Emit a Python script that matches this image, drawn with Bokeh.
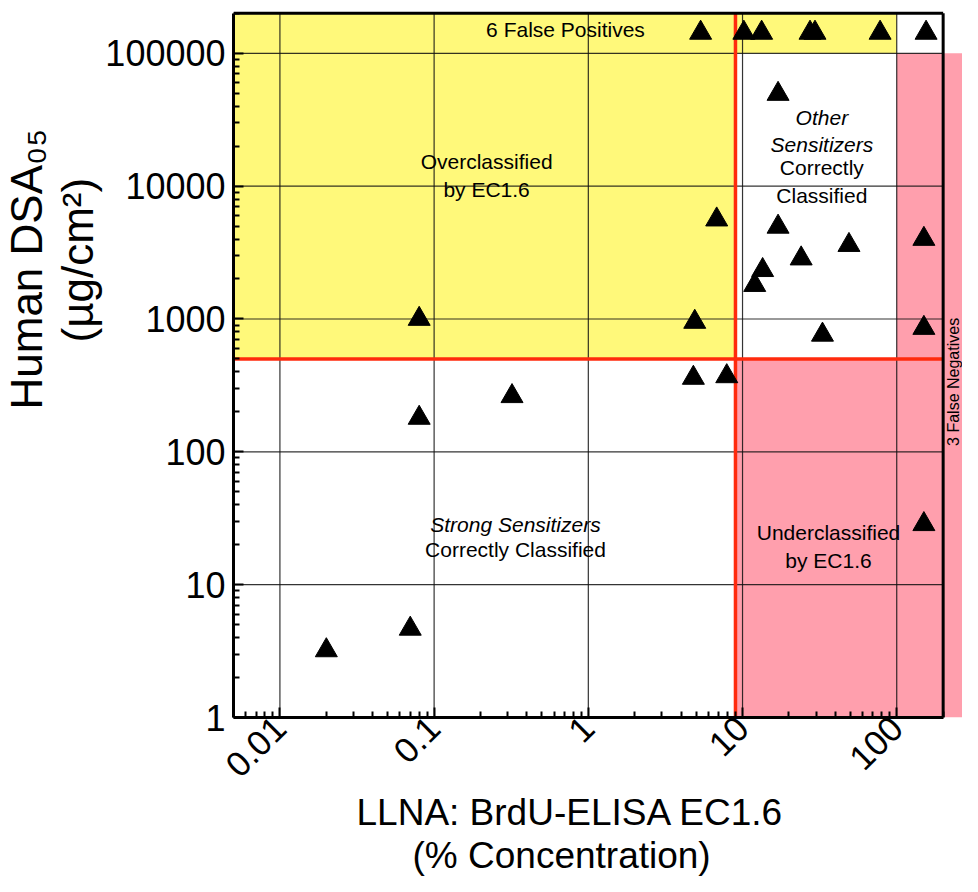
import math
from bokeh.plotting import figure
from bokeh.models import Range1d, FixedTicker, Title, ColumnDataSource
from bokeh.core.properties import value
from bokeh.embed import file_html
from bokeh.resources import INLINE

# ---------------- data ----------------
ec16 = [0.02, 0.07, 0.08, 0.08, 0.32, 4.8, 7.9, 4.9, 6.8, 12, 13.5, 17, 24, 33, 49, 17,
        150, 150, 150,
        5.35, 10.2, 13.3, 27.4, 29.5, 78, 155]
dsa05 = [3.2, 4.65, 180, 1000, 262, 360, 370, 950, 5600, 1800, 2330, 4940, 2850, 760, 3600, 49400,
         4000, 855, 28.5,
         142500, 142500, 142500, 142500, 142500, 142500, 142500]

ec_threshold = 9          # vertical red line (% concentration)
dsa_threshold = 500       # horizontal red line (ug/cm2)
fp_band = 100000          # "6 False Positives" strip lower edge
fn_band = 100             # "3 False Negatives" column left edge

x_ticks = [0.01, 0.1, 1, 10, 100]
x_tick_labels = ["0.01", "0.1", "1", "10", "100"]
y_ticks = [1, 10, 100, 1000, 10000, 100000]
y_tick_labels = ["1", "10", "100", "1000", "10000", "100000"]

x_lo, x_hi = 0.005, 200        # plot box
y_lo, y_hi = 1, 200000

FONT = "Liberation Sans"
YELLOW = "#FFF97A"
PINK = "#FF9FAD"
RED = "#FF2A0D"

p = figure(width=962, height=876, x_axis_type="log", y_axis_type="log",
           x_range=Range1d(x_lo, 267), y_range=Range1d(y_lo, 210000),
           output_backend="svg", toolbar_location=None,
           min_border_left=233, min_border_right=0, min_border_top=10, min_border_bottom=159)
p.outline_line_color = None
p.xgrid.visible = False
p.ygrid.visible = False
p.background_fill_color = "white"
p.border_fill_color = "white"

# shaded regions
p.quad(left=[1e-4, ec_threshold], right=[ec_threshold, fn_band],
       bottom=[dsa_threshold, fp_band], top=[y_hi, y_hi],
       fill_color=YELLOW, line_color=None)
p.quad(left=[ec_threshold, fn_band, x_hi], right=[x_hi, x_hi, 1e4],
       bottom=[1e-2, dsa_threshold, y_lo], top=[dsa_threshold, fp_band, fp_band],
       fill_color=PINK, line_color=None)

# grid lines (inside the box only)
p.segment(x0=x_ticks, y0=[y_lo] * len(x_ticks), x1=x_ticks, y1=[y_hi] * len(x_ticks),
          line_color="#111111", line_width=1.2, line_alpha=0.85)
p.segment(x0=[x_lo] * (len(y_ticks) - 1), y0=y_ticks[1:], x1=[x_hi] * (len(y_ticks) - 1), y1=y_ticks[1:],
          line_color="#111111", line_width=1.2, line_alpha=0.85)

# threshold lines
p.segment(x0=[ec_threshold, x_lo], y0=[y_lo, dsa_threshold], x1=[ec_threshold, x_hi], y1=[y_hi, dsa_threshold],
          line_color=RED, line_width=3.5)

# box top/right border
p.segment(x0=[x_lo, x_hi], y0=[y_hi, y_lo], x1=[x_hi, x_hi], y1=[y_hi, y_hi],
          line_color="black", line_width=3)

# points
p.scatter(ec16, dsa05, marker="triangle", size=22, fill_color="black", line_color="black")

# region texts
normal = ColumnDataSource(dict(
    x=[0.711, 0.219, 32.7, 0.337, 36.1],
    y=[151700, 12050, 10870, 18.4, 19.4],
    t=["6 False Positives", "Overclassified\nby EC1.6", "Correctly\nClassified",
       "Correctly Classified", "Underclassified\nby EC1.6"]))
p.text(x="x", y="y", text="t", source=normal, text_font=value(FONT), text_font_size="21px",
       text_align="center", text_baseline="middle", text_color="black", text_line_height=1.2)
italic = ColumnDataSource(dict(
    x=[32.7, 0.337], y=[26070, 28.4], t=["Other\nSensitizers", "Strong Sensitizers"]))
p.text(x="x", y="y", text="t", source=italic, text_font=value(FONT), text_font_size="21px",
       text_font_style="italic", text_align="center", text_baseline="middle", text_color="black",
       text_line_height=1.2)
p.text(x=[232], y=[336], text=["3 False Negatives"], angle=math.pi / 2, text_font=value(FONT),
       text_font_size="16px", text_align="center", text_baseline="middle", text_color="black")

# axes
minor = [m * 10 ** k for k in range(-3, 6) for m in range(2, 10)]
xa = p.xaxis[0]
xa.ticker = FixedTicker(ticks=x_ticks, minor_ticks=minor)
xa.major_label_overrides = dict(zip(x_ticks, x_tick_labels))
xa.bounds = (x_lo, x_hi)
xa.major_label_orientation = math.pi / 4
xa.major_label_text_font_size = "35px"
xa.major_label_standoff = 5

ya = p.yaxis[0]
ya.ticker = FixedTicker(ticks=y_ticks, minor_ticks=minor)
ya.major_label_overrides = dict(zip(y_ticks, y_tick_labels))
ya.bounds = (y_lo, y_hi)
ya.major_label_text_font_size = "36px"
ya.major_label_standoff = 8

for a in (xa, ya):
    a.axis_line_width = 3
    a.axis_line_color = "black"
    a.major_tick_in = 10
    a.major_tick_out = 0
    a.minor_tick_in = 6
    a.minor_tick_out = 0
    a.major_tick_line_width = 2
    a.minor_tick_line_width = 2
    a.major_label_text_font = FONT
    a.major_label_text_color = "black"


def title(text, size, offset):
    return Title(text=text, align="left", offset=offset, vertical_align="middle",
                 text_font=FONT, text_font_size=size, text_font_style="normal",
                 text_color="black", standoff=0)


# y axis title (two lines, closest line added first)
p.add_layout(title("(\u00b5g/cm\u00b2)", "44px", 375), "left")
p.add_layout(title("Human DSA\u2080\u2085", "44px", 308), "left")
# x axis title
p.add_layout(title("LLNA: BrdU-ELISA EC1.6", "37px", 123), "below")
p.add_layout(title("(% Concentration)", "37px", 179), "below")

open("out.html", "w").write(file_html(p, INLINE))
